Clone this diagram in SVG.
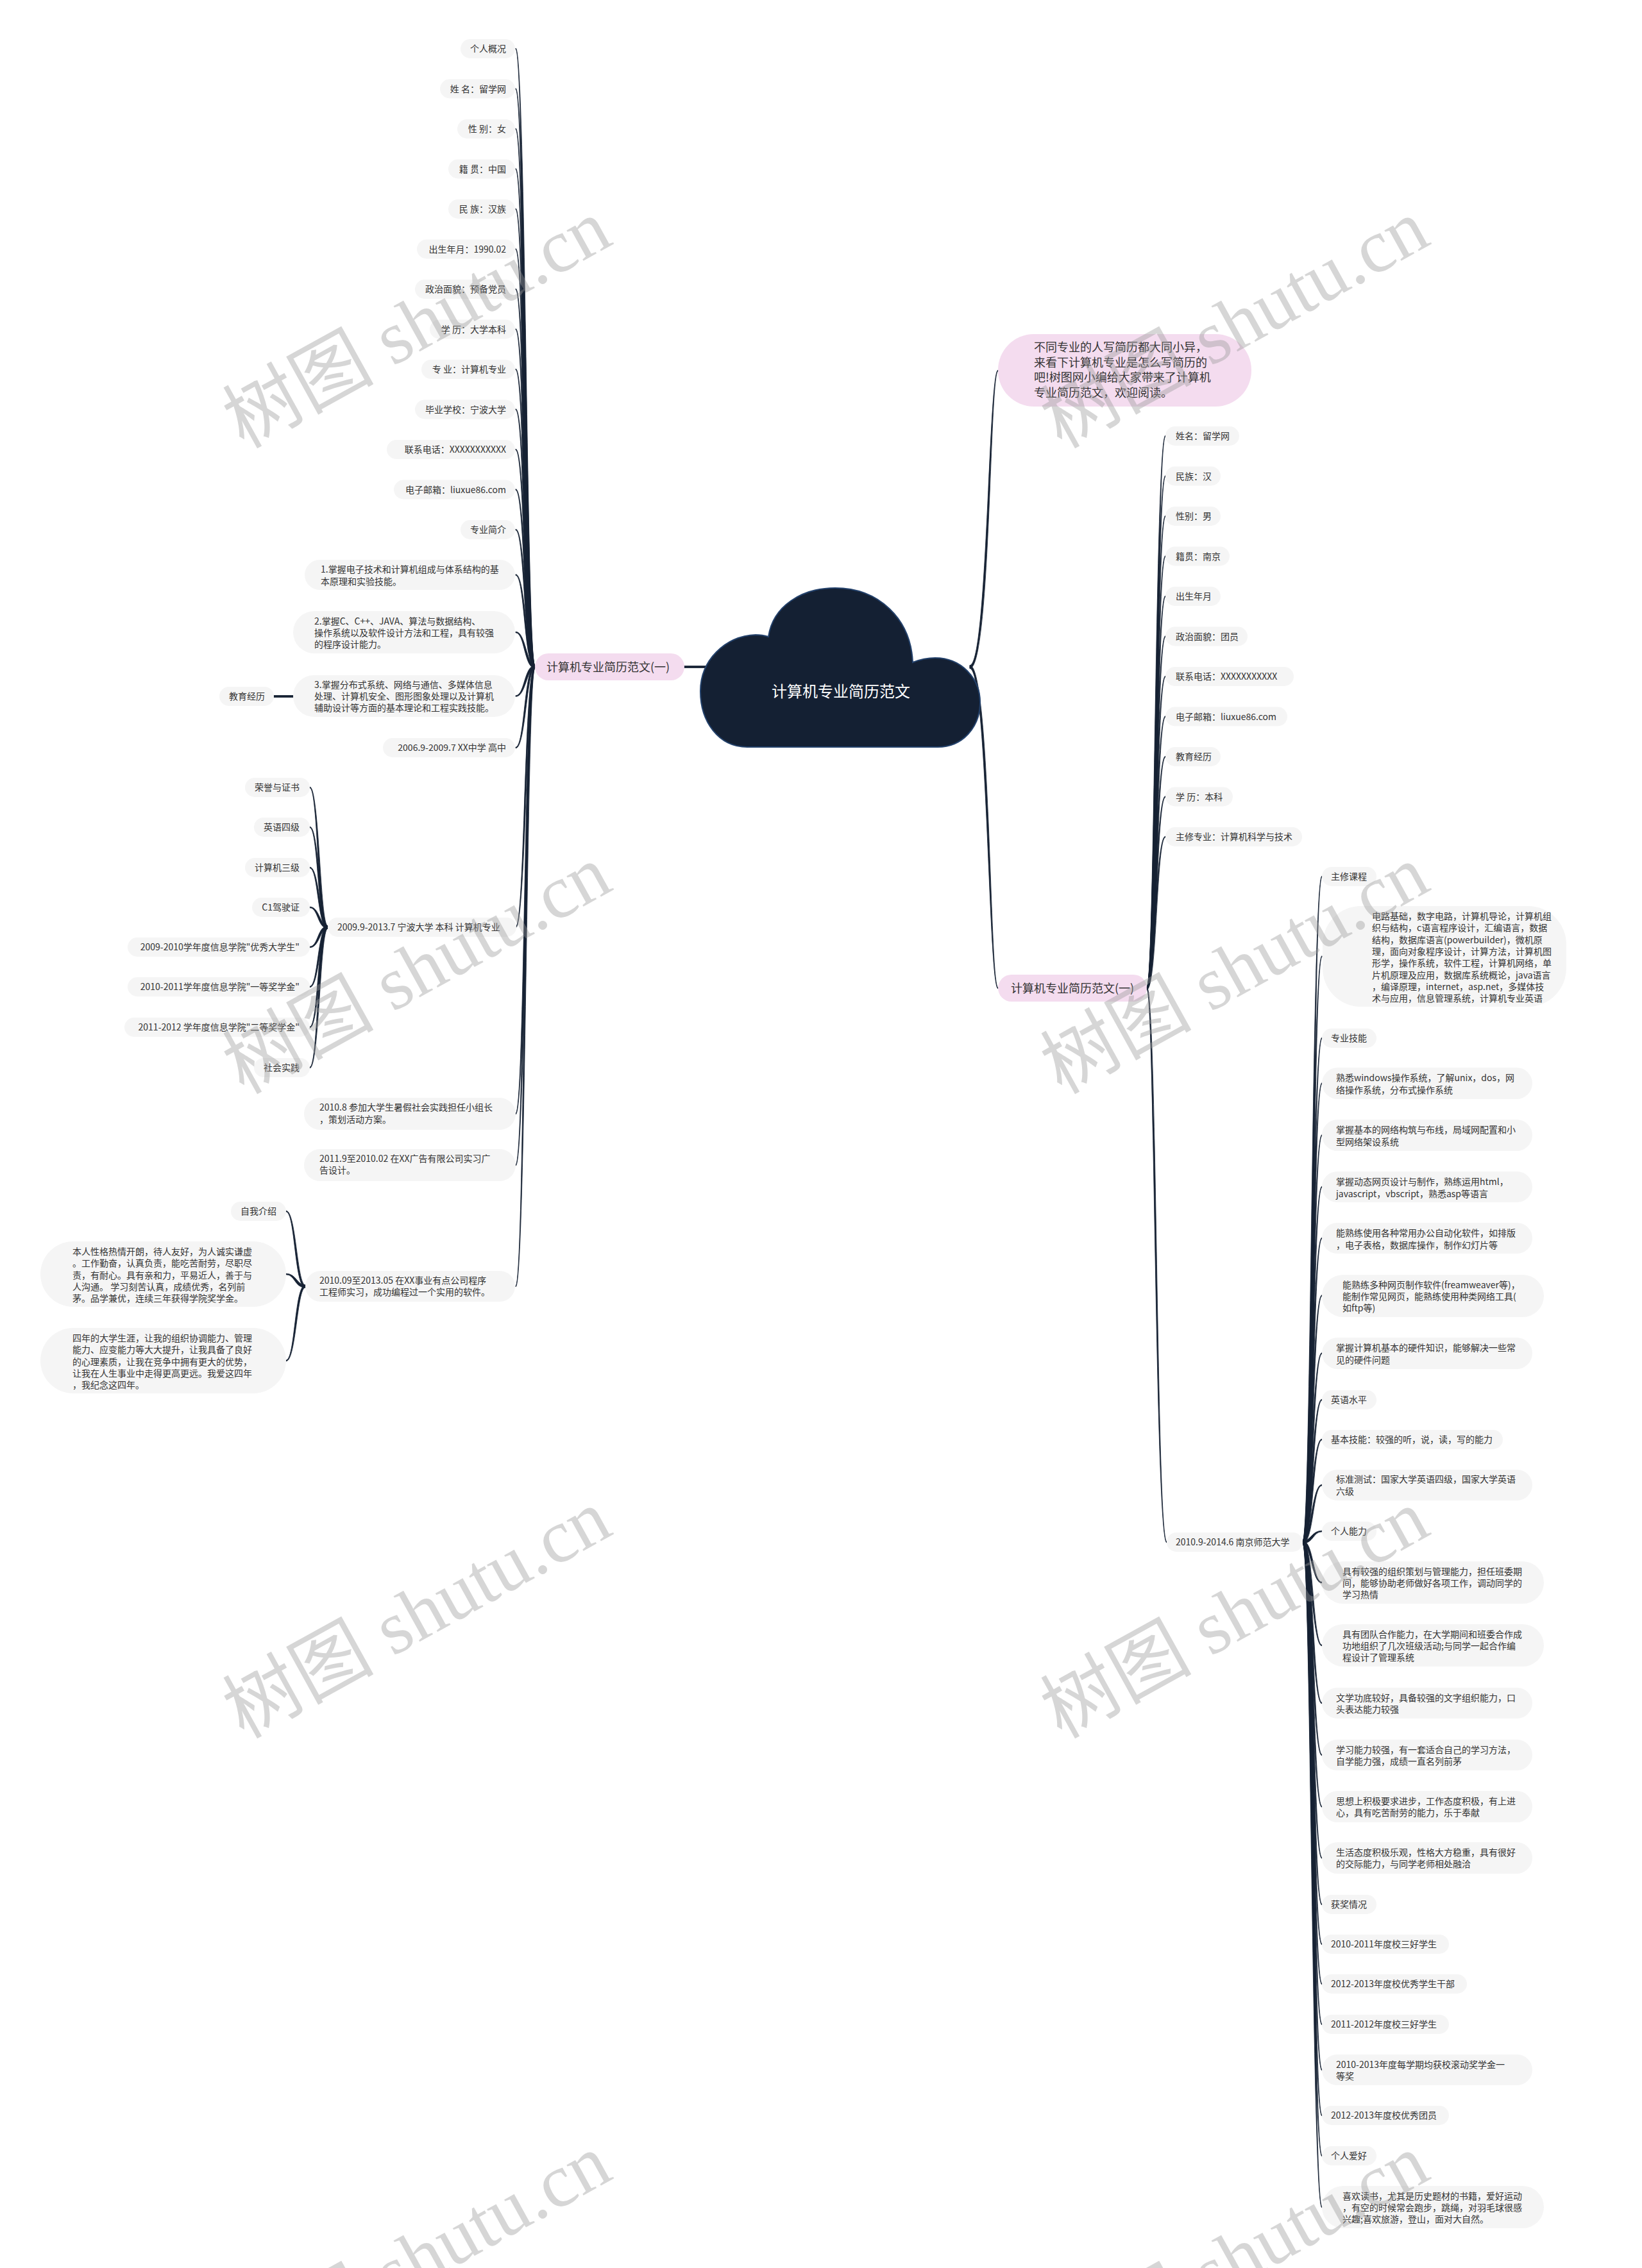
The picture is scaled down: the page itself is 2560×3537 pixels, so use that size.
<svg xmlns="http://www.w3.org/2000/svg" width="2560" height="3537" viewBox="0 0 2560 3537">
<style>
text{font-family:"Noto Sans CJK SC","Liberation Sans",sans-serif;font-size:14px;fill:#333}
.n rect{fill:#f5f5f5}
.p rect{fill:#f4dcef}
.e{text-anchor:end}
.b{font-size:18px}
#connectors path{fill:#162234;stroke:#162234;stroke-width:.8;stroke-linejoin:round}
.wm{font-family:"Liberation Serif","Noto Sans CJK SC",serif;font-size:118px;fill:#999;fill-opacity:.4;text-anchor:middle}
</style>
<rect width="2560" height="3537" fill="#fff"/>
<g id="connectors">
<path d="M834,1038C821,1038 819.8,75.2 804,75.2L804,76.8C818.2,76.8 817,1042 834,1042Z"/>
<path d="M834,1038C821,1038 819.8,137.7 804,137.7L804,139.3C818.2,139.3 817,1042 834,1042Z"/>
<path d="M834,1038C821,1038 819.8,200.2 804,200.2L804,201.8C818.2,201.8 817,1042 834,1042Z"/>
<path d="M834,1038C821,1038 819.8,262.7 804,262.7L804,264.3C818.2,264.3 817,1042 834,1042Z"/>
<path d="M834,1038C821,1038 819.8,325.2 804,325.2L804,326.8C818.2,326.8 817,1042 834,1042Z"/>
<path d="M834,1038C821,1038 819.8,387.7 804,387.7L804,389.3C818.2,389.3 817,1042 834,1042Z"/>
<path d="M834,1038C821,1038 819.8,450.2 804,450.2L804,451.8C818.2,451.8 817,1042 834,1042Z"/>
<path d="M834,1038C821,1038 819.8,512.7 804,512.7L804,514.3C818.2,514.3 817,1042 834,1042Z"/>
<path d="M834,1038C821,1038 819.8,575.2 804,575.2L804,576.8C818.2,576.8 817,1042 834,1042Z"/>
<path d="M834,1038C821,1038 819.8,637.7 804,637.7L804,639.3C818.2,639.3 817,1042 834,1042Z"/>
<path d="M834,1038C821,1038 819.8,700.2 804,700.2L804,701.8C818.2,701.8 817,1042 834,1042Z"/>
<path d="M834,1038C821,1038 819.8,762.7 804,762.7L804,764.3C818.2,764.3 817,1042 834,1042Z"/>
<path d="M834,1038C821,1038 819.8,825.2 804,825.2L804,826.8C818.2,826.8 817,1042 834,1042Z"/>
<path d="M834,1038C821,1038 819.8,895.7 804,895.7L804,897.3C818.2,897.3 817,1042 834,1042Z"/>
<path d="M834,1038C821,1038 819.8,985.2 804,985.2L804,986.8C818.2,986.8 817,1042 834,1042Z"/>
<path d="M834,1038C817,1038 818.2,1084.7 804,1084.7L804,1086.3C819.8,1086.3 821,1042 834,1042Z"/>
<path d="M834,1038C817,1038 818.2,1165.2 804,1165.2L804,1166.8C819.8,1166.8 821,1042 834,1042Z"/>
<path d="M834,1038C817,1038 818.2,1445.2 804,1445.2L804,1446.8C819.8,1446.8 821,1042 834,1042Z"/>
<path d="M834,1038C817,1038 818.2,1736.2 804,1736.2L804,1737.8C819.8,1737.8 821,1042 834,1042Z"/>
<path d="M834,1038C817,1038 818.2,1816.2 804,1816.2L804,1817.8C819.8,1817.8 821,1042 834,1042Z"/>
<path d="M834,1038C817,1038 818.2,2005.2 804,2005.2L804,2006.8C819.8,2006.8 821,1042 834,1042Z"/>
<path d="M427,1084.5H457V1087.5H427Z"/>
<path d="M511,1444C499,1444 497.8,1227.2 483,1227.2L483,1228.8C496.2,1228.8 495,1448 511,1448Z"/>
<path d="M511,1444C499,1444 497.8,1289.2 483,1289.2L483,1290.8C496.2,1290.8 495,1448 511,1448Z"/>
<path d="M511,1444C499,1444 497.8,1352.2 483,1352.2L483,1353.8C496.2,1353.8 495,1448 511,1448Z"/>
<path d="M511,1444C499,1444 497.8,1414.2 483,1414.2L483,1415.8C496.2,1415.8 495,1448 511,1448Z"/>
<path d="M511,1444C495,1444 496.2,1476.2 483,1476.2L483,1477.8C497.8,1477.8 499,1448 511,1448Z"/>
<path d="M511,1444C495,1444 496.2,1538.2 483,1538.2L483,1539.8C497.8,1539.8 499,1448 511,1448Z"/>
<path d="M511,1444C495,1444 496.2,1601.2 483,1601.2L483,1602.8C497.8,1602.8 499,1448 511,1448Z"/>
<path d="M511,1444C495,1444 496.2,1664.2 483,1664.2L483,1665.8C497.8,1665.8 499,1448 511,1448Z"/>
<path d="M476,2004C463,2004 461.8,1888.2 446,1888.2L446,1889.8C460.2,1889.8 459,2008 476,2008Z"/>
<path d="M476,2004C463,2004 461.8,1986.2 446,1986.2L446,1987.8C460.2,1987.8 459,2008 476,2008Z"/>
<path d="M476,2004C459,2004 460.2,2121.2 446,2121.2L446,2122.8C461.8,2122.8 463,2008 476,2008Z"/>
<path d="M1060,1038.5H1100V1041.5H1060Z"/>
<path d="M1512,1037.5C1539.5,1037.5 1541.2,577.2 1556,577.2L1556,578.8C1542.8,578.8 1544.5,1042.5 1512,1042.5Z"/>
<path d="M1512,1037.5C1544.5,1037.5 1542.8,1540.2 1556,1540.2L1556,1541.8C1541.2,1541.8 1539.5,1042.5 1512,1042.5Z"/>
<path d="M1788,1539C1800,1539 1801.2,679.2 1817,679.2L1817,680.8C1802.8,680.8 1804,1543 1788,1543Z"/>
<path d="M1788,1539C1800,1539 1801.2,741.7 1817,741.7L1817,743.3C1802.8,743.3 1804,1543 1788,1543Z"/>
<path d="M1788,1539C1800,1539 1801.2,804.2 1817,804.2L1817,805.8C1802.8,805.8 1804,1543 1788,1543Z"/>
<path d="M1788,1539C1800,1539 1801.2,866.7 1817,866.7L1817,868.3C1802.8,868.3 1804,1543 1788,1543Z"/>
<path d="M1788,1539C1800,1539 1801.2,929.2 1817,929.2L1817,930.8C1802.8,930.8 1804,1543 1788,1543Z"/>
<path d="M1788,1539C1800,1539 1801.2,991.7 1817,991.7L1817,993.3C1802.8,993.3 1804,1543 1788,1543Z"/>
<path d="M1788,1539C1800,1539 1801.2,1054.2 1817,1054.2L1817,1055.8C1802.8,1055.8 1804,1543 1788,1543Z"/>
<path d="M1788,1539C1800,1539 1801.2,1116.7 1817,1116.7L1817,1118.3C1802.8,1118.3 1804,1543 1788,1543Z"/>
<path d="M1788,1539C1800,1539 1801.2,1179.2 1817,1179.2L1817,1180.8C1802.8,1180.8 1804,1543 1788,1543Z"/>
<path d="M1788,1539C1800,1539 1801.2,1241.7 1817,1241.7L1817,1243.3C1802.8,1243.3 1804,1543 1788,1543Z"/>
<path d="M1788,1539C1800,1539 1801.2,1304.2 1817,1304.2L1817,1305.8C1802.8,1305.8 1804,1543 1788,1543Z"/>
<path d="M1788,1539C1804,1539 1802.8,2404.2 1819,2404.2L1819,2405.8C1801.2,2405.8 1800,1543 1788,1543Z"/>
<path d="M2031,2403C2044,2403 2045.2,1366.2 2061,1366.2L2061,1367.8C2046.8,1367.8 2048,2407 2031,2407Z"/>
<path d="M2031,2403C2044,2403 2045.2,1490.7 2061,1490.7L2061,1492.3C2046.8,1492.3 2048,2407 2031,2407Z"/>
<path d="M2031,2403C2044,2403 2045.2,1618.2 2061,1618.2L2061,1619.8C2046.8,1619.8 2048,2407 2031,2407Z"/>
<path d="M2031,2403C2044,2403 2045.2,1688.7 2061,1688.7L2061,1690.3C2046.8,1690.3 2048,2407 2031,2407Z"/>
<path d="M2031,2403C2044,2403 2045.2,1769.7 2061,1769.7L2061,1771.3C2046.8,1771.3 2048,2407 2031,2407Z"/>
<path d="M2031,2403C2044,2403 2045.2,1850.2 2061,1850.2L2061,1851.8C2046.8,1851.8 2048,2407 2031,2407Z"/>
<path d="M2031,2403C2044,2403 2045.2,1930.2 2061,1930.2L2061,1931.8C2046.8,1931.8 2048,2407 2031,2407Z"/>
<path d="M2031,2403C2044,2403 2045.2,2019.7 2061,2019.7L2061,2021.3C2046.8,2021.3 2048,2407 2031,2407Z"/>
<path d="M2031,2403C2044,2403 2045.2,2109.7 2061,2109.7L2061,2111.3C2046.8,2111.3 2048,2407 2031,2407Z"/>
<path d="M2031,2403C2044,2403 2045.2,2182.2 2061,2182.2L2061,2183.8C2046.8,2183.8 2048,2407 2031,2407Z"/>
<path d="M2031,2403C2044,2403 2045.2,2244.2 2061,2244.2L2061,2245.8C2046.8,2245.8 2048,2407 2031,2407Z"/>
<path d="M2031,2403C2044,2403 2045.2,2315.2 2061,2315.2L2061,2316.8C2046.8,2316.8 2048,2407 2031,2407Z"/>
<path d="M2031,2403C2044,2403 2045.2,2387.2 2061,2387.2L2061,2388.8C2046.8,2388.8 2048,2407 2031,2407Z"/>
<path d="M2031,2403C2048,2403 2046.8,2467.2 2061,2467.2L2061,2468.8C2045.2,2468.8 2044,2407 2031,2407Z"/>
<path d="M2031,2403C2048,2403 2046.8,2565.2 2061,2565.2L2061,2566.8C2045.2,2566.8 2044,2407 2031,2407Z"/>
<path d="M2031,2403C2048,2403 2046.8,2655.2 2061,2655.2L2061,2656.8C2045.2,2656.8 2044,2407 2031,2407Z"/>
<path d="M2031,2403C2048,2403 2046.8,2736.2 2061,2736.2L2061,2737.8C2045.2,2737.8 2044,2407 2031,2407Z"/>
<path d="M2031,2403C2048,2403 2046.8,2816.7 2061,2816.7L2061,2818.3C2045.2,2818.3 2044,2407 2031,2407Z"/>
<path d="M2031,2403C2048,2403 2046.8,2896.7 2061,2896.7L2061,2898.3C2045.2,2898.3 2044,2407 2031,2407Z"/>
<path d="M2031,2403C2048,2403 2046.8,2969.2 2061,2969.2L2061,2970.8C2045.2,2970.8 2044,2407 2031,2407Z"/>
<path d="M2031,2403C2048,2403 2046.8,3031.2 2061,3031.2L2061,3032.8C2045.2,3032.8 2044,2407 2031,2407Z"/>
<path d="M2031,2403C2048,2403 2046.8,3093.2 2061,3093.2L2061,3094.8C2045.2,3094.8 2044,2407 2031,2407Z"/>
<path d="M2031,2403C2048,2403 2046.8,3156.2 2061,3156.2L2061,3157.8C2045.2,3157.8 2044,2407 2031,2407Z"/>
<path d="M2031,2403C2048,2403 2046.8,3227.2 2061,3227.2L2061,3228.8C2045.2,3228.8 2044,2407 2031,2407Z"/>
<path d="M2031,2403C2048,2403 2046.8,3298.2 2061,3298.2L2061,3299.8C2045.2,3299.8 2044,2407 2031,2407Z"/>
<path d="M2031,2403C2048,2403 2046.8,3361.2 2061,3361.2L2061,3362.8C2045.2,3362.8 2044,2407 2031,2407Z"/>
<path d="M2031,2403C2048,2403 2046.8,3441.2 2061,3441.2L2061,3442.8C2045.2,3442.8 2044,2407 2031,2407Z"/>
</g>

<g id="root">
<path d="M1165,1165C1120,1165 1092,1125 1092,1078C1092,1030 1130,992 1178,990C1184,990 1192,991 1198,993C1205,945 1250,917 1302,917C1370,917 1420,965 1423,1033C1433,1029 1445,1026 1458,1026C1498,1026 1528,1057 1528,1095C1528,1135 1500,1165 1462,1165Z" fill="#142033" stroke="#23416b" stroke-width="2"/>
<text x="1311" y="1086.5" text-anchor="middle" style="font-size:24px;fill:#fff">计算机专业简历范文</text>
</g>

<g id="branch-left" class="p"><rect x="834" y="1019" width="233" height="42" rx="21"/><text class="b" x="852" y="1046.5">计算机专业简历范文(一)</text></g>
<g id="branch-right" class="p"><rect x="1556" y="1520" width="232" height="42" rx="21"/><text class="b" x="1576" y="1547.5">计算机专业简历范文(一)</text></g>
<g id="intro" class="p"><rect x="1556" y="521" width="395" height="113" rx="56"/><text class="b"><tspan x="1612" y="547.5">不同专业的人写简历都大同小异，</tspan><tspan x="1612" y="571.5">来看下计算机专业是怎么写简历的</tspan><tspan x="1612" y="595">吧!树图网小编给大家带来了计算机</tspan><tspan x="1612" y="619">专业简历范文，欢迎阅读。</tspan></text></g>

<g id="l01" class="n"><rect x="718" y="61" width="85" height="30" rx="15"/><text class="e" x="789" y="81">个人概况</text></g>
<g id="l02" class="n"><rect x="686" y="123.5" width="117" height="30" rx="15"/><text class="e" x="789" y="143.5">姓 名：留学网</text></g>
<g id="l03" class="n"><rect x="713" y="186" width="90" height="30" rx="15"/><text class="e" x="789" y="206">性 别：女</text></g>
<g id="l04" class="n"><rect x="699" y="248.5" width="104" height="30" rx="15"/><text class="e" x="789" y="268.5">籍 贯：中国</text></g>
<g id="l05" class="n"><rect x="699" y="311" width="104" height="30" rx="15"/><text class="e" x="789" y="331">民 族：汉族</text></g>
<g id="l06" class="n"><rect x="650" y="373.5" width="153" height="30" rx="15"/><text class="e" x="789" y="393.5">出生年月：1990.02</text></g>
<g id="l07" class="n"><rect x="647" y="436" width="156" height="30" rx="15"/><text class="e" x="789" y="456">政治面貌：预备党员</text></g>
<g id="l08" class="n"><rect x="670" y="498.5" width="133" height="30" rx="15"/><text class="e" x="789" y="518.5">学 历：大学本科</text></g>
<g id="l09" class="n"><rect x="657" y="561" width="146" height="30" rx="15"/><text class="e" x="789" y="581">专 业：计算机专业</text></g>
<g id="l10" class="n"><rect x="647" y="623.5" width="156" height="30" rx="15"/><text class="e" x="789" y="643.5">毕业学校：宁波大学</text></g>
<g id="l11" class="n"><rect x="603" y="686" width="200" height="30" rx="15"/><text class="e" x="789" y="706">联系电话：XXXXXXXXXXX</text></g>
<g id="l12" class="n"><rect x="614" y="748.5" width="189" height="30" rx="15"/><text class="e" x="789" y="768.5">电子邮箱：liuxue86.com</text></g>
<g id="l13" class="n"><rect x="718" y="811" width="85" height="30" rx="15"/><text class="e" x="789" y="831">专业简介</text></g>
<g id="l14" class="n"><rect x="475" y="873" width="328" height="47" rx="23.5"/><text><tspan x="500" y="893">1.掌握电子技术和计算机组成与体系结构的基</tspan><tspan x="500" y="911.5">本原理和实验技能。</tspan></text></g>
<g id="l15" class="n"><rect x="457" y="953" width="346" height="66" rx="33"/><text><tspan x="490" y="974">2.掌握C、C++、JAVA、算法与数据结构、</tspan><tspan x="490" y="992">操作系统以及软件设计方法和工程，具有较强</tspan><tspan x="490" y="1010">的程序设计能力。</tspan></text></g>
<g id="l16" class="n"><rect x="457" y="1053" width="346" height="65" rx="32.5"/><text><tspan x="490" y="1073">3.掌握分布式系统、网络与通信、多媒体信息</tspan><tspan x="490" y="1091">处理、计算机安全、图形图象处理以及计算机</tspan><tspan x="490" y="1109">辅助设计等方面的基本理论和工程实践技能。</tspan></text></g>
<g id="l16a" class="n"><rect x="342" y="1071" width="85" height="30" rx="15"/><text x="357" y="1091">教育经历</text></g>
<g id="l17" class="n"><rect x="597" y="1151" width="206" height="30" rx="15"/><text class="e" x="789" y="1171">2006.9-2009.7 XX中学 高中</text></g>
<g id="l18" class="n"><rect x="511" y="1431" width="294" height="30" rx="15"/><text x="526" y="1451">2009.9-2013.7 宁波大学 本科 计算机专业</text></g>
<g id="l18a" class="n"><rect x="382" y="1213" width="101" height="30" rx="15"/><text class="e" x="467" y="1233">荣誉与证书</text></g>
<g id="l18b" class="n"><rect x="396" y="1275" width="87" height="30" rx="15"/><text class="e" x="467" y="1295">英语四级</text></g>
<g id="l18c" class="n"><rect x="382" y="1338" width="101" height="30" rx="15"/><text class="e" x="467" y="1358">计算机三级</text></g>
<g id="l18d" class="n"><rect x="393" y="1400" width="90" height="30" rx="15"/><text class="e" x="467" y="1420">C1驾驶证</text></g>
<g id="l18e" class="n"><rect x="199" y="1462" width="284" height="30" rx="15"/><text class="e" x="467" y="1482">2009-2010学年度信息学院"优秀大学生"</text></g>
<g id="l18f" class="n"><rect x="199" y="1524" width="284" height="30" rx="15"/><text class="e" x="467" y="1544">2010-2011学年度信息学院"一等奖学金"</text></g>
<g id="l18g" class="n"><rect x="194" y="1587" width="289" height="30" rx="15"/><text class="e" x="467" y="1607">2011-2012 学年度信息学院"二等奖学金"</text></g>
<g id="l18h" class="n"><rect x="396" y="1650" width="87" height="30" rx="15"/><text class="e" x="467" y="1670">社会实践</text></g>
<g id="l19" class="n"><rect x="474" y="1712" width="330" height="50" rx="25"/><text><tspan x="498" y="1732">2010.8 参加大学生暑假社会实践担任小组长</tspan><tspan x="498" y="1750.5">，策划活动方案。</tspan></text></g>
<g id="l20" class="n"><rect x="474" y="1792" width="330" height="50" rx="25"/><text><tspan x="498" y="1812">2011.9至2010.02 在XX广告有限公司实习广</tspan><tspan x="498" y="1830">告设计。</tspan></text></g>
<g id="l21" class="n"><rect x="476" y="1982" width="327" height="48" rx="24"/><text><tspan x="498" y="2002">2010.09至2013.05 在XX事业有点公司程序</tspan><tspan x="498" y="2020">工程师实习，成功编程过一个实用的软件。</tspan></text></g>
<g id="l21a" class="n"><rect x="360" y="1874" width="86" height="30" rx="15"/><text x="375" y="1894">自我介绍</text></g>
<g id="l21b" class="n"><rect x="63" y="1936" width="383" height="102" rx="51"/><text><tspan x="113" y="1957">本人性格热情开朗，待人友好，为人诚实谦虚</tspan><tspan x="113" y="1975">。工作勤奋，认真负责，能吃苦耐劳，尽职尽</tspan><tspan x="113" y="1993.5">责，有耐心。具有亲和力，平易近人，善于与</tspan><tspan x="113" y="2012">人沟通。 学习刻苦认真，成绩优秀，名列前</tspan><tspan x="113" y="2030">茅。品学兼优，连续三年获得学院奖学金。</tspan></text></g>
<g id="l21c" class="n"><rect x="63" y="2071" width="383" height="102" rx="51"/><text><tspan x="113" y="2092">四年的大学生涯，让我的组织协调能力、管理</tspan><tspan x="113" y="2110">能力、应变能力等大大提升，让我具备了良好</tspan><tspan x="113" y="2128.5">的心理素质，让我在竞争中拥有更大的优势，</tspan><tspan x="113" y="2147">让我在人生事业中走得更高更远。我爱这四年</tspan><tspan x="113" y="2165">，我纪念这四年。</tspan></text></g>

<g id="r01" class="n"><rect x="1817" y="665" width="115" height="30" rx="15"/><text x="1833" y="685">姓名：留学网</text></g>
<g id="r02" class="n"><rect x="1817" y="727.5" width="86" height="30" rx="15"/><text x="1833" y="747.5">民族：汉</text></g>
<g id="r03" class="n"><rect x="1817" y="790" width="86" height="30" rx="15"/><text x="1833" y="810">性别：男</text></g>
<g id="r04" class="n"><rect x="1817" y="852.5" width="100" height="30" rx="15"/><text x="1833" y="872.5">籍贯：南京</text></g>
<g id="r05" class="n"><rect x="1817" y="915" width="86" height="30" rx="15"/><text x="1833" y="935">出生年月</text></g>
<g id="r06" class="n"><rect x="1817" y="977.5" width="128" height="30" rx="15"/><text x="1833" y="997.5">政治面貌：团员</text></g>
<g id="r07" class="n"><rect x="1817" y="1040" width="200" height="30" rx="15"/><text x="1833" y="1060">联系电话：XXXXXXXXXXX</text></g>
<g id="r08" class="n"><rect x="1817" y="1102.5" width="190" height="30" rx="15"/><text x="1833" y="1122.5">电子邮箱：liuxue86.com</text></g>
<g id="r09" class="n"><rect x="1817" y="1165" width="86" height="30" rx="15"/><text x="1833" y="1185">教育经历</text></g>
<g id="r10" class="n"><rect x="1817" y="1227.5" width="105" height="30" rx="15"/><text x="1833" y="1247.5">学 历：本科</text></g>
<g id="r11" class="n"><rect x="1817" y="1290" width="213" height="30" rx="15"/><text x="1833" y="1310">主修专业：计算机科学与技术</text></g>
<g id="r12" class="n"><rect x="1819" y="2390" width="212" height="30" rx="15"/><text x="1833" y="2410">2010.9-2014.6 南京师范大学</text></g>

<g id="s01" class="n"><rect x="2061" y="1352" width="85" height="30" rx="15"/><text x="2075" y="1372">主修课程</text></g>
<g id="s02" class="n"><rect x="2062" y="1413" width="380" height="157" rx="60"/><text><tspan x="2139" y="1434">电路基础，数字电路，计算机导论，计算机组</tspan><tspan x="2139" y="1452.3">织与结构，c语言程序设计，汇编语言，数据</tspan><tspan x="2139" y="1470.6">结构，数据库语言(powerbuilder)，微机原</tspan><tspan x="2139" y="1488.9">理，面向对象程序设计，计算方法，计算机图</tspan><tspan x="2139" y="1507.2">形学，操作系统，软件工程，计算机网络，单</tspan><tspan x="2139" y="1525.5">片机原理及应用，数据库系统概论，java语言</tspan><tspan x="2139" y="1543.8">，编译原理，internet，asp.net，多媒体技</tspan><tspan x="2139" y="1562.1">术与应用，信息管理系统，计算机专业英语</tspan></text></g>
<g id="s03" class="n"><rect x="2061" y="1604" width="85" height="30" rx="15"/><text x="2075" y="1624">专业技能</text></g>
<g id="s04" class="n"><rect x="2061" y="1665" width="328" height="49" rx="24.5"/><text><tspan x="2083" y="1686">熟悉windows操作系统，了解unix，dos，网</tspan><tspan x="2083" y="1704.5">络操作系统，分布式操作系统</tspan></text></g>
<g id="s05" class="n"><rect x="2061" y="1746" width="328" height="49" rx="24.5"/><text><tspan x="2083" y="1767">掌握基本的网络构筑与布线，局域网配置和小</tspan><tspan x="2083" y="1785.5">型网络架设系统</tspan></text></g>
<g id="s06" class="n"><rect x="2061" y="1827" width="328" height="48" rx="24"/><text><tspan x="2083" y="1848">掌握动态网页设计与制作，熟练运用html，</tspan><tspan x="2083" y="1866.5">javascript，vbscript，熟悉asp等语言</tspan></text></g>
<g id="s07" class="n"><rect x="2061" y="1907" width="328" height="48" rx="24"/><text><tspan x="2083" y="1928">能熟练使用各种常用办公自动化软件，如排版</tspan><tspan x="2083" y="1946.5">，电子表格，数据库操作，制作幻灯片等</tspan></text></g>
<g id="s08" class="n"><rect x="2061" y="1988" width="346" height="66" rx="33"/><text><tspan x="2093" y="2009">能熟练多种网页制作软件(freamweaver等)，</tspan><tspan x="2093" y="2027">能制作常见网页，能熟练使用种类网络工具(</tspan><tspan x="2093" y="2045">如ftp等)</tspan></text></g>
<g id="s09" class="n"><rect x="2061" y="2086" width="328" height="49" rx="24.5"/><text><tspan x="2083" y="2107">掌握计算机基本的硬件知识，能够解决一些常</tspan><tspan x="2083" y="2125.5">见的硬件问题</tspan></text></g>
<g id="s10" class="n"><rect x="2061" y="2168" width="85" height="30" rx="15"/><text x="2075" y="2188">英语水平</text></g>
<g id="s11" class="n"><rect x="2061" y="2230" width="282" height="30" rx="15"/><text x="2075" y="2250">基本技能：较强的听，说，读，写的能力</text></g>
<g id="s12" class="n"><rect x="2061" y="2292" width="328" height="48" rx="24"/><text><tspan x="2083" y="2312">标准测试：国家大学英语四级，国家大学英语</tspan><tspan x="2083" y="2330.5">六级</tspan></text></g>
<g id="s13" class="n"><rect x="2061" y="2373" width="85" height="30" rx="15"/><text x="2075" y="2393">个人能力</text></g>
<g id="s14" class="n"><rect x="2061" y="2435" width="346" height="66" rx="33"/><text><tspan x="2093" y="2456">具有较强的组织策划与管理能力，担任班委期</tspan><tspan x="2093" y="2474">间，能够协助老师做好各项工作，调动同学的</tspan><tspan x="2093" y="2492">学习热情</tspan></text></g>
<g id="s15" class="n"><rect x="2061" y="2533" width="346" height="66" rx="33"/><text><tspan x="2093" y="2554">具有团队合作能力，在大学期间和班委合作成</tspan><tspan x="2093" y="2572">功地组织了几次班级活动;与同学一起合作编</tspan><tspan x="2093" y="2590">程设计了管理系统</tspan></text></g>
<g id="s16" class="n"><rect x="2061" y="2632" width="328" height="48" rx="24"/><text><tspan x="2083" y="2653">文学功底较好，具备较强的文字组织能力，口</tspan><tspan x="2083" y="2671">头表达能力较强</tspan></text></g>
<g id="s17" class="n"><rect x="2061" y="2713" width="328" height="48" rx="24"/><text><tspan x="2083" y="2734">学习能力较强，有一套适合自己的学习方法，</tspan><tspan x="2083" y="2752">自学能力强，成绩一直名列前茅</tspan></text></g>
<g id="s18" class="n"><rect x="2061" y="2793" width="328" height="49" rx="24.5"/><text><tspan x="2083" y="2814">思想上积极要求进步，工作态度积极，有上进</tspan><tspan x="2083" y="2832">心，具有吃苦耐劳的能力，乐于奉献</tspan></text></g>
<g id="s19" class="n"><rect x="2061" y="2873" width="328" height="49" rx="24.5"/><text><tspan x="2083" y="2894">生活态度积极乐观，性格大方稳重，具有很好</tspan><tspan x="2083" y="2912">的交际能力，与同学老师相处融洽</tspan></text></g>
<g id="s20" class="n"><rect x="2061" y="2955" width="85" height="30" rx="15"/><text x="2075" y="2975">获奖情况</text></g>
<g id="s21" class="n"><rect x="2061" y="3017" width="198" height="30" rx="15"/><text x="2075" y="3037">2010-2011年度校三好学生</text></g>
<g id="s22" class="n"><rect x="2061" y="3079" width="226" height="30" rx="15"/><text x="2075" y="3099">2012-2013年度校优秀学生干部</text></g>
<g id="s23" class="n"><rect x="2061" y="3142" width="198" height="30" rx="15"/><text x="2075" y="3162">2011-2012年度校三好学生</text></g>
<g id="s24" class="n"><rect x="2061" y="3204" width="328" height="48" rx="24"/><text><tspan x="2083" y="3225">2010-2013年度每学期均获校滚动奖学金一</tspan><tspan x="2083" y="3243">等奖</tspan></text></g>
<g id="s25" class="n"><rect x="2061" y="3284" width="198" height="30" rx="15"/><text x="2075" y="3304">2012-2013年度校优秀团员</text></g>
<g id="s26" class="n"><rect x="2061" y="3347" width="85" height="30" rx="15"/><text x="2075" y="3367">个人爱好</text></g>
<g id="s27" class="n"><rect x="2061" y="3409" width="346" height="66" rx="33"/><text><tspan x="2093" y="3430">喜欢读书，尤其是历史题材的书籍，爱好运动</tspan><tspan x="2093" y="3448">，有空的时候常会跑步，跳绳，对羽毛球很感</tspan><tspan x="2093" y="3466">兴趣;喜欢旅游，登山，面对大自然。</tspan></text></g>

<g id="watermarks">
<text class="wm" transform="translate(650,505) rotate(-29)" y="40">树图 shutu.cn</text>
<text class="wm" transform="translate(650,1512) rotate(-29)" y="40">树图 shutu.cn</text>
<text class="wm" transform="translate(650,2517) rotate(-29)" y="40">树图 shutu.cn</text>
<text class="wm" transform="translate(650,3522) rotate(-29)" y="40">树图 shutu.cn</text>
<text class="wm" transform="translate(1925,505) rotate(-29)" y="40">树图 shutu.cn</text>
<text class="wm" transform="translate(1925,1512) rotate(-29)" y="40">树图 shutu.cn</text>
<text class="wm" transform="translate(1925,2517) rotate(-29)" y="40">树图 shutu.cn</text>
<text class="wm" transform="translate(1925,3522) rotate(-29)" y="40">树图 shutu.cn</text>
</g>
</svg>
